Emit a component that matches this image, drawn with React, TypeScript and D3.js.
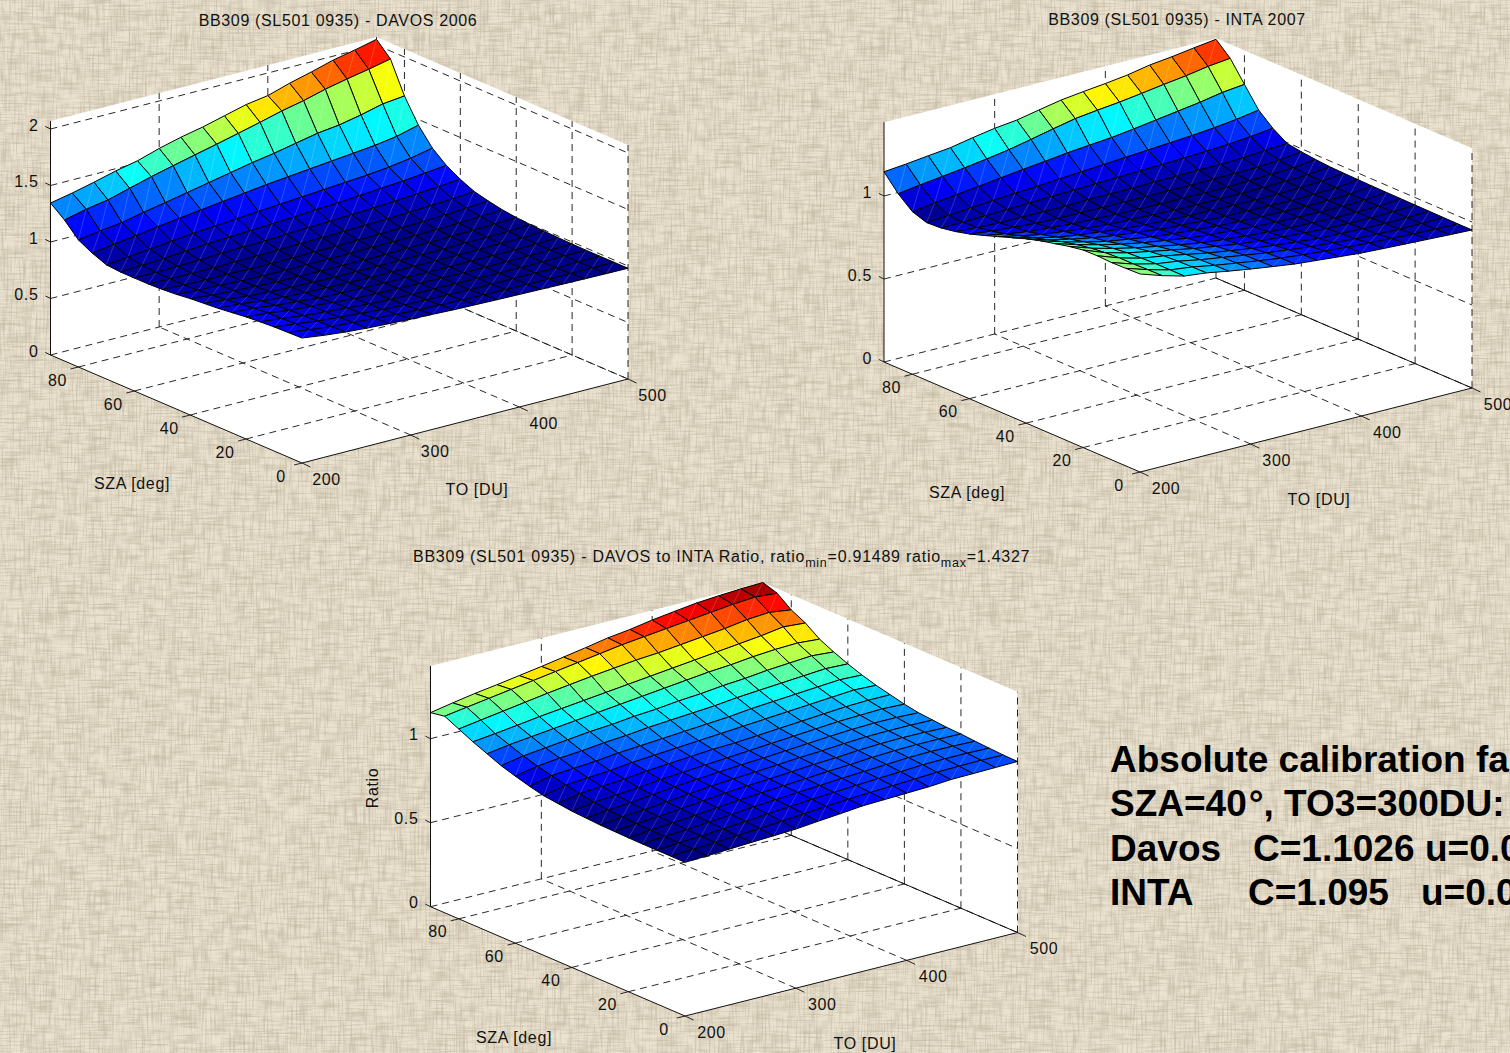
import React, { useRef, useEffect } from "react";
import * as d3 from "d3";

// ─── Grid of the three surfaces ──────────────────────────────────────────
const szaValues = [90, 85, 80, 75, 70, 65, 60, 55, 50, 45, 40, 35, 30, 25, 20, 15, 10, 5, 0];
const toValues = [200, 220, 240, 260, 280, 300, 320, 340, 360, 380, 400, 420, 440, 460, 480, 500];

const szaTicks = [0, 20, 40, 60, 80];
const toTicks = [200, 300, 400, 500];

// rows follow szaValues, columns follow toValues
const davos = [
  [1.345, 1.384, 1.43, 1.48, 1.52, 1.58, 1.63, 1.67, 1.72, 1.77, 1.8, 1.86, 1.91, 1.965, 2.005, 2.05],
  [1.248, 1.293, 1.326, 1.38, 1.433, 1.48, 1.526, 1.571, 1.618, 1.666, 1.717, 1.758, 1.81, 1.851, 1.888, 1.929],
  [1.124, 1.154, 1.178, 1.22, 1.256, 1.295, 1.334, 1.373, 1.412, 1.445, 1.484, 1.523, 1.547, 1.586, 1.634, 1.655],
  [1.06, 1.09, 1.115, 1.145, 1.17, 1.195, 1.22, 1.245, 1.27, 1.29, 1.31, 1.33, 1.35, 1.37, 1.4, 1.45],
  [1.01, 1.03, 1.05, 1.07, 1.09, 1.105, 1.12, 1.135, 1.15, 1.165, 1.18, 1.195, 1.21, 1.23, 1.26, 1.3],
  [1.0, 1.01, 1.02, 1.035, 1.05, 1.06, 1.07, 1.08, 1.09, 1.105, 1.115, 1.13, 1.145, 1.16, 1.18, 1.2],
  [1.0, 1.0, 1.005, 1.01, 1.02, 1.025, 1.03, 1.04, 1.05, 1.055, 1.065, 1.075, 1.085, 1.1, 1.115, 1.13],
  [1.0, 0.995, 0.995, 0.995, 1.0, 1.0, 1.005, 1.01, 1.015, 1.02, 1.025, 1.03, 1.04, 1.05, 1.06, 1.075],
  [1.005, 0.995, 0.99, 0.99, 0.985, 0.985, 0.985, 0.99, 0.99, 0.995, 1.0, 1.005, 1.01, 1.02, 1.03, 1.045],
  [1.015, 1.0, 0.995, 0.985, 0.98, 0.98, 0.98, 0.98, 0.98, 0.985, 0.985, 0.99, 0.995, 1.0, 1.01, 1.02],
  [1.03, 1.01, 1.0, 0.99, 0.98, 0.98, 0.975, 0.975, 0.975, 0.975, 0.98, 0.98, 0.985, 0.99, 0.995, 1.005],
  [1.04, 1.025, 1.005, 0.995, 0.985, 0.98, 0.975, 0.975, 0.975, 0.975, 0.975, 0.975, 0.98, 0.98, 0.985, 0.995],
  [1.05, 1.04, 1.015, 1.0, 0.99, 0.985, 0.98, 0.975, 0.975, 0.975, 0.975, 0.975, 0.975, 0.98, 0.98, 0.99],
  [1.065, 1.055, 1.03, 1.015, 0.995, 0.99, 0.985, 0.98, 0.98, 0.975, 0.975, 0.975, 0.975, 0.975, 0.98, 0.985],
  [1.08, 1.065, 1.04, 1.025, 1.01, 0.995, 0.99, 0.985, 0.98, 0.98, 0.975, 0.975, 0.975, 0.975, 0.98, 0.982],
  [1.09, 1.07, 1.045, 1.03, 1.015, 1.0, 0.99, 0.985, 0.985, 0.98, 0.98, 0.975, 0.975, 0.975, 0.98, 0.98],
  [1.098, 1.075, 1.05, 1.035, 1.02, 1.005, 0.995, 0.99, 0.985, 0.98, 0.98, 0.98, 0.98, 0.975, 0.98, 0.98],
  [1.102, 1.078, 1.055, 1.04, 1.028, 1.015, 1.005, 0.998, 0.992, 0.988, 0.985, 0.982, 0.98, 0.98, 0.98, 0.98],
  [1.106, 1.08, 1.06, 1.045, 1.035, 1.025, 1.018, 1.01, 1.005, 1.0, 0.996, 0.992, 0.988, 0.985, 0.982, 0.98],
];

const inta = [
  [1.146, 1.159, 1.175, 1.19, 1.216, 1.239, 1.255, 1.282, 1.308, 1.325, 1.34, 1.358, 1.384, 1.4, 1.42, 1.438],
  [1.05, 1.07, 1.087, 1.105, 1.125, 1.147, 1.175, 1.205, 1.233, 1.25, 1.265, 1.284, 1.304, 1.322, 1.345, 1.36],
  [0.979, 0.998, 1.014, 1.03, 1.048, 1.065, 1.08, 1.097, 1.11, 1.122, 1.14, 1.16, 1.18, 1.2, 1.225, 1.24],
  [0.95, 0.96, 0.972, 0.982, 0.992, 1.0, 1.01, 1.02, 1.03, 1.04, 1.05, 1.06, 1.07, 1.083, 1.1, 1.122],
  [0.955, 0.955, 0.96, 0.965, 0.97, 0.975, 0.98, 0.985, 0.99, 0.995, 1.0, 1.005, 1.012, 1.02, 1.033, 1.049],
  [0.97, 0.96, 0.955, 0.955, 0.955, 0.955, 0.96, 0.96, 0.96, 0.965, 0.965, 0.97, 0.97, 0.975, 0.985, 0.995],
  [0.992, 0.975, 0.965, 0.955, 0.95, 0.95, 0.948, 0.948, 0.948, 0.948, 0.948, 0.95, 0.952, 0.955, 0.965, 0.981],
  [1.02, 0.995, 0.975, 0.965, 0.955, 0.95, 0.945, 0.942, 0.94, 0.94, 0.94, 0.94, 0.945, 0.95, 0.955, 0.972],
  [1.05, 1.02, 0.995, 0.98, 0.965, 0.955, 0.95, 0.945, 0.94, 0.938, 0.938, 0.938, 0.94, 0.945, 0.95, 0.965],
  [1.08, 1.045, 1.015, 0.995, 0.98, 0.965, 0.955, 0.948, 0.942, 0.94, 0.938, 0.936, 0.938, 0.942, 0.948, 0.962],
  [1.11, 1.07, 1.04, 1.015, 0.995, 0.98, 0.965, 0.955, 0.948, 0.942, 0.94, 0.938, 0.936, 0.94, 0.945, 0.96],
  [1.135, 1.095, 1.06, 1.03, 1.01, 0.99, 0.975, 0.965, 0.955, 0.948, 0.943, 0.94, 0.938, 0.94, 0.945, 0.958],
  [1.155, 1.115, 1.08, 1.05, 1.025, 1.005, 0.985, 0.972, 0.962, 0.953, 0.947, 0.943, 0.94, 0.94, 0.945, 0.957],
  [1.175, 1.13, 1.095, 1.065, 1.04, 1.015, 0.995, 0.98, 0.968, 0.958, 0.95, 0.945, 0.942, 0.942, 0.945, 0.956],
  [1.19, 1.14, 1.105, 1.08, 1.055, 1.03, 1.01, 0.99, 0.975, 0.965, 0.955, 0.948, 0.945, 0.945, 0.948, 0.955],
  [1.192, 1.145, 1.11, 1.09, 1.065, 1.04, 1.02, 1.0, 0.985, 0.972, 0.96, 0.955, 0.95, 0.948, 0.95, 0.954],
  [1.188, 1.145, 1.113, 1.095, 1.07, 1.05, 1.03, 1.01, 0.995, 0.98, 0.97, 0.96, 0.955, 0.95, 0.95, 0.953],
  [1.19, 1.148, 1.113, 1.097, 1.073, 1.053, 1.033, 1.015, 1.002, 0.99, 0.98, 0.972, 0.965, 0.958, 0.954, 0.952],
  [1.193, 1.149, 1.113, 1.098, 1.075, 1.054, 1.035, 1.017, 1.005, 0.993, 0.982, 0.975, 0.969, 0.963, 0.957, 0.952],
];

const ratio = [
  [1.155, 1.18, 1.203, 1.222, 1.243, 1.264, 1.287, 1.31, 1.335, 1.352, 1.375, 1.393, 1.41, 1.42, 1.428, 1.4327],
  [1.17, 1.19, 1.21, 1.23, 1.25, 1.27, 1.29, 1.31, 1.33, 1.345, 1.36, 1.375, 1.39, 1.405, 1.415, 1.405],
  [1.13, 1.15, 1.17, 1.19, 1.21, 1.228, 1.245, 1.26, 1.275, 1.285, 1.3, 1.315, 1.33, 1.35, 1.36, 1.342],
  [1.09, 1.105, 1.122, 1.14, 1.155, 1.17, 1.185, 1.2, 1.215, 1.23, 1.245, 1.26, 1.275, 1.29, 1.31, 1.3],
  [1.055, 1.075, 1.09, 1.105, 1.12, 1.135, 1.15, 1.165, 1.18, 1.195, 1.21, 1.22, 1.235, 1.245, 1.25, 1.24],
  [1.02, 1.045, 1.06, 1.075, 1.09, 1.1, 1.115, 1.125, 1.14, 1.15, 1.165, 1.175, 1.19, 1.2, 1.21, 1.2],
  [0.994, 1.02, 1.035, 1.045, 1.06, 1.07, 1.085, 1.095, 1.105, 1.115, 1.13, 1.14, 1.15, 1.16, 1.17, 1.165],
  [0.97, 1.0, 1.01, 1.02, 1.035, 1.045, 1.055, 1.065, 1.075, 1.085, 1.1, 1.11, 1.12, 1.13, 1.14, 1.135],
  [0.95, 0.98, 0.99, 1.0, 1.015, 1.025, 1.035, 1.045, 1.055, 1.065, 1.075, 1.085, 1.095, 1.105, 1.115, 1.11],
  [0.94, 0.965, 0.975, 0.985, 1.0, 1.01, 1.02, 1.03, 1.035, 1.045, 1.055, 1.065, 1.075, 1.085, 1.09, 1.09],
  [0.93, 0.95, 0.96, 0.97, 0.985, 0.995, 1.005, 1.015, 1.025, 1.035, 1.045, 1.055, 1.065, 1.07, 1.075, 1.07],
  [0.925, 0.94, 0.95, 0.965, 0.978, 0.99, 1.0, 1.01, 1.017, 1.027, 1.037, 1.047, 1.055, 1.06, 1.06, 1.055],
  [0.92, 0.935, 0.945, 0.958, 0.972, 0.985, 0.995, 1.003, 1.013, 1.023, 1.03, 1.04, 1.047, 1.05, 1.05, 1.048],
  [0.918, 0.93, 0.94, 0.953, 0.967, 0.98, 0.99, 0.998, 1.008, 1.018, 1.025, 1.035, 1.042, 1.045, 1.044, 1.04],
  [0.916, 0.928, 0.938, 0.95, 0.962, 0.975, 0.985, 0.993, 1.003, 1.013, 1.02, 1.03, 1.037, 1.04, 1.04, 1.037],
  [0.915, 0.927, 0.935, 0.946, 0.958, 0.97, 0.98, 0.99, 0.998, 1.008, 1.016, 1.024, 1.032, 1.035, 1.034, 1.03],
  [0.915, 0.925, 0.932, 0.942, 0.953, 0.965, 0.975, 0.985, 0.993, 1.002, 1.01, 1.017, 1.025, 1.028, 1.028, 1.025],
  [0.915, 0.923, 0.93, 0.938, 0.947, 0.957, 0.968, 0.979, 0.989, 0.996, 1.003, 1.009, 1.017, 1.02, 1.022, 1.02],
  [0.91489, 0.92, 0.927, 0.934, 0.94, 0.947, 0.96, 0.972, 0.985, 0.99, 0.995, 1.0, 1.01, 1.012, 1.015, 1.018],
];

// ─── Layout of each 3-D box on the page ──────────────────────────────────
const panels = [
  {
    data: davos, zTicks: [0, 0.5, 1, 1.5, 2], zTop: 2.07, zUnit: 113, floorSolid: false,
    front: [302, 463], left: [50.5, 355], right: [628, 379], toNudge: [0, 0.5],
    szaLabel: [132, 489], toLabel: [477, 495],
  },
  {
    data: inta, zTicks: [0, 0.5, 1], zTop: 1.445, zUnit: 166, floorSolid: true,
    front: [1140, 472], left: [884, 362], right: [1472, 388], toNudge: [1.5, 0.5],
    szaLabel: [967, 498], toLabel: [1319, 505],
  },
  {
    data: ratio, zTicks: [0, 0.5, 1], zTop: 1.4327, zUnit: 168, floorSolid: true,
    front: [685, 1016], left: [430.5, 906.7], right: [1017.5, 932.5], toNudge: [2, 0.5],
    szaLabel: [514, 1043], toLabel: [865, 1049],
  },
];

const FONT = "'Liberation Sans', Arial, sans-serif";
const LABEL_SIZE = 16;
const LABEL_SPACING = 0.65;

// MATLAB jet, 64 levels
function jet(n: number) {
  const t = (Math.min(Math.floor(n * 64), 63) + 0.5) / 64;
  const ch = (c: number) => Math.round(255 * Math.max(0, Math.min(1, 1.5 - Math.abs(4 * t - c))));
  return `rgb(${ch(3)},${ch(2)},${ch(1)})`;
}

function drawPanel(svg: any, p: any) {
  const u = d3.scaleLinear().domain([0, 90]).range([0, 1]);
  const v = d3.scaleLinear().domain([200, 500]).range([0, 1]);
  const h = d3.scaleLinear().domain([0, 1]).range([0, p.zUnit]);
  const pt = (s: number, t: number, z: number) => [
    p.front[0] + u(s) * (p.left[0] - p.front[0]) + v(t) * (p.right[0] - p.front[0]),
    p.front[1] + u(s) * (p.left[1] - p.front[1]) + v(t) * (p.right[1] - p.front[1]) - h(z),
  ];
  const g = svg.append("g");
  const path = (pts: number[][]) => d3.line()(pts as any);

  // white walls and floor
  g.append("path")
    .attr("d", path([pt(90, 200, 0), pt(0, 200, 0), pt(0, 500, 0), pt(0, 500, p.zTop), pt(90, 500, p.zTop), pt(90, 200, p.zTop)]) + "Z")
    .attr("fill", "#fff");

  const gridLine = (a: number[], b: number[], solid = false) =>
    g.append("line")
      .attr("x1", a[0]).attr("y1", a[1]).attr("x2", b[0]).attr("y2", b[1])
      .attr("stroke", "#111").attr("stroke-width", solid ? 1 : 0.9)
      .attr("stroke-dasharray", solid ? null : "7,5");

  // grid on the floor and both walls
  szaTicks.forEach((s) => {
    if (s > 0) gridLine(pt(s, 200, 0), pt(s, 500, 0));
    gridLine(pt(s, 500, 0), pt(s, 500, p.zTop));
  });
  toTicks.slice(1).forEach((t) => {
    gridLine(pt(0, t, 0), pt(90, t, 0));
    gridLine(pt(90, t, 0), pt(90, t, p.zTop));
  });
  p.zTicks.forEach((z: number) => {
    gridLine(pt(90, 200, z), pt(90, 500, z), false);
    if (z > 0 || !p.floorSolid) gridLine(pt(90, 500, z), pt(0, 500, z));
  });
  if (p.floorSolid) gridLine(pt(90, 500, 0), pt(0, 500, 0), true);

  // axis lines
  gridLine(pt(90, 200, 0), pt(90, 200, p.zTop), true);
  gridLine(pt(90, 200, 0), pt(0, 200, 0), true);
  gridLine(pt(0, 200, 0), pt(0, 500, 0), true);

  // surface, far cells first; a cell takes the colour of its low SZA / low TO corner
  const flat = d3.merge(p.data) as number[];
  const level = d3.scaleLinear().domain([d3.min(flat) as number, d3.max(flat) as number]).range([0, 1]);
  const surf = g.append("g");
  for (let i = 0; i < szaValues.length - 1; i++) {
    for (let j = toValues.length - 2; j >= 0; j--) {
      const a = pt(szaValues[i + 1], toValues[j], p.data[i + 1][j]);
      const b = pt(szaValues[i + 1], toValues[j + 1], p.data[i + 1][j + 1]);
      const c = pt(szaValues[i], toValues[j + 1], p.data[i][j + 1]);
      const d = pt(szaValues[i], toValues[j], p.data[i][j]);
      surf.append("path")
        .attr("d", path([a, b, c, d]) + "Z")
        .attr("fill", jet(level(p.data[i + 1][j])))
        .attr("stroke", "#000").attr("stroke-width", 1).attr("stroke-linejoin", "round");
      surf.append("path")
        .attr("d", path([a, c]))
        .attr("stroke", "#fff").attr("stroke-opacity", 0.3).attr("stroke-width", 0.6);
    }
  }

  // ticks
  const tick = (a: number[], dx: number, dy: number) =>
    g.append("line").attr("x1", a[0]).attr("y1", a[1]).attr("x2", a[0] + dx).attr("y2", a[1] + dy)
      .attr("stroke", "#111").attr("stroke-width", 0.9);
  const label = (x: number, y: number, txt: any, anchor = "middle") =>
    g.append("text").attr("x", x).attr("y", y).attr("text-anchor", anchor)
      .attr("font-family", FONT).attr("font-size", LABEL_SIZE).attr("letter-spacing", LABEL_SPACING)
      .attr("fill", "#111").text(txt);

  p.zTicks.forEach((z: number) => {
    const a = pt(90, 200, z);
    tick(a, -5.2, -2.6);
    label(a[0] - 12, a[1] + 1.5, z, "end");
  });
  szaTicks.forEach((s) => {
    const a = pt(s, 200, 0);
    tick(a, -8, 2);
    label(a[0] - 21, a[1] + 18.5, s);
  });
  toTicks.forEach((t) => {
    const a = pt(0, t, 0);
    tick(a, 8.5, 4);
    label(a[0] + 24.5 + p.toNudge[0], a[1] + 21 + p.toNudge[1], t);
  });
  label(p.szaLabel[0], p.szaLabel[1], "SZA [deg]");
  label(p.toLabel[0], p.toLabel[1], "TO [DU]");
}

const App = () => {
  const svgRef = useRef<SVGSVGElement>(null);

  useEffect(() => {
    document.body.style.margin = "0";
    const svg = d3.select(svgRef.current as any);
    svg.selectAll("*").remove();

    // ─── burlap background ────────────────────────────────────────────────
    const defs = svg.append("defs");
    const weave = (id: string, freq: string, seed: number, k: number, off: number) => {
      const f = defs.append("filter").attr("id", id)
        .attr("x", 0).attr("y", 0).attr("width", "100%").attr("height", "100%");
      f.append("feTurbulence").attr("type", "fractalNoise").attr("baseFrequency", freq)
        .attr("numOctaves", 2).attr("seed", seed);
      f.append("feColorMatrix").attr("type", "matrix")
        .attr("values", `0 0 0 0 0.52  0 0 0 0 0.46  0 0 0 0 0.35  ${k} 0 0 0 ${off}`);
    };
    weave("threadsH", "0.035 0.55", 4, 1.6, -0.7);
    weave("threadsV", "0.55 0.035", 9, 1.6, -0.7);
    weave("patches", "0.09 0.09", 2, 1.0, -0.45);

    svg.append("rect").attr("width", 1510).attr("height", 1053).attr("fill", "#ebe3d0");
    ["threadsH", "threadsV", "patches"].forEach((id) =>
      svg.append("rect").attr("width", 1510).attr("height", 1053).attr("filter", `url(#${id})`)
    );

    panels.forEach((p) => drawPanel(svg, p));

    // ─── titles ───────────────────────────────────────────────────────────
    const title = (x: number, y: number, txt: string) =>
      svg.append("text").attr("x", x).attr("y", y).attr("text-anchor", "middle")
        .attr("font-family", FONT).attr("font-size", LABEL_SIZE).attr("letter-spacing", LABEL_SPACING)
        .attr("fill", "#111").text(txt);
    title(338, 25.5, "BB309 (SL501 0935) - DAVOS 2006");
    title(1177, 24.5, "BB309 (SL501 0935) - INTA 2007");

    const t3 = svg.append("text").attr("x", 413).attr("y", 561.5)
      .attr("font-family", FONT).attr("font-size", LABEL_SIZE).attr("letter-spacing", 0.75).attr("fill", "#111");
    t3.append("tspan").text("BB309 (SL501 0935) - DAVOS to INTA Ratio, ratio");
    t3.append("tspan").attr("dy", 5).attr("font-size", 12.5).text("min");
    t3.append("tspan").attr("dy", -5).text("=0.91489 ratio");
    t3.append("tspan").attr("dy", 5).attr("font-size", 12.5).text("max");
    t3.append("tspan").attr("dy", -5).text("=1.4327");

    svg.append("text").attr("transform", "translate(378,788) rotate(-90)")
      .attr("text-anchor", "middle").attr("font-family", FONT).attr("font-size", LABEL_SIZE)
      .attr("letter-spacing", LABEL_SPACING).attr("fill", "#111").text("Ratio");

    // ─── note on the right, runs off the page as in the original ──────────
    const note = (x: number, y: number, txt: string) =>
      svg.append("text").attr("x", x).attr("y", y).attr("font-family", FONT)
        .attr("font-size", 37).attr("font-weight", 700).attr("fill", "#000").text(txt);
    note(1110, 772, "Absolute calibration fa");
    const line2 = note(1110, 816, "SZA=40");
    line2.append("tspan").attr("dx", 2).text("°, TO3=300DU:");
    note(1110, 861, "Davos");
    note(1253, 861, "C=1.1026");
    note(1425, 861, "u=0.0");
    note(1110, 905, "INTA");
    note(1248, 905, "C=1.095");
    note(1421, 905, "u=0.0");
  }, []);

  return (
    <svg
      ref={svgRef}
      width={1510}
      height={1053}
      style={{ position: "absolute", left: 0, top: 0, display: "block" }}
    />
  );
};

export default App;
